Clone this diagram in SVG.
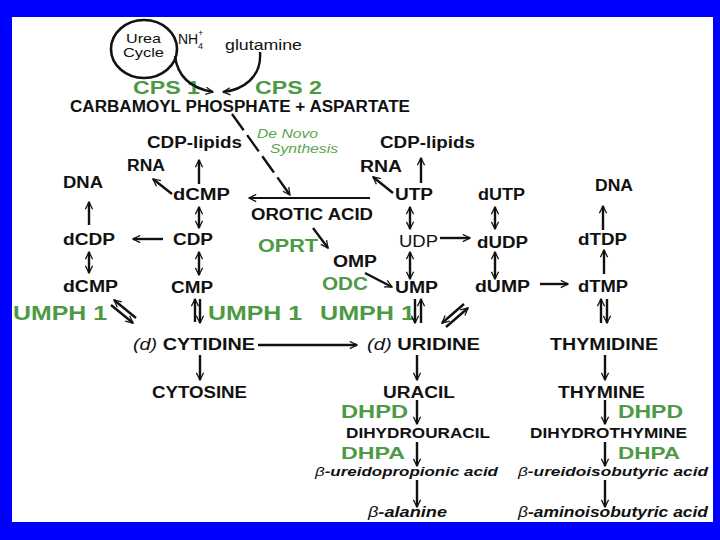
<svg xmlns="http://www.w3.org/2000/svg" width="720" height="540" viewBox="0 0 720 540">
<defs>
<marker id="ah" viewBox="0 0 10 10" refX="9" refY="5" markerWidth="9" markerHeight="9" markerUnits="userSpaceOnUse" orient="auto-start-reverse">
<path d="M1,1 L9,5 L1,9" fill="none" stroke="#111" stroke-width="1.4"/>
</marker>
<style>
text{font-family:"Liberation Sans",Arial,sans-serif;fill:#111;}
.b{font-weight:bold;font-size:16px;}
.g{font-weight:bold;fill:#4d9944;font-size:19px;}
.sm{font-weight:bold;font-size:14px;}
.it{font-style:italic;font-weight:bold;font-size:14px;}
.dn{font-style:italic;fill:#5aa64e;font-size:13px;}
.c{fill:none;stroke:#111;stroke-width:2.4;}
.a{marker-end:url(#ah);}
.d{marker-start:url(#ah);marker-end:url(#ah);}
</style>
</defs>
<rect width="720" height="540" fill="#0000ff"/>
<rect x="12" y="17" width="701" height="505" fill="#ffffff"/>

<g id="urea-cycle">
<ellipse cx="144" cy="49" rx="33" ry="29" fill="none" stroke="#111" stroke-width="2.6"/>
<text x="126" y="43" textLength="35" lengthAdjust="spacingAndGlyphs" style="font-size:13px">Urea</text>
<text x="123" y="57" textLength="41" lengthAdjust="spacingAndGlyphs" style="font-size:13px">Cycle</text>
</g>
<g id="nh4">
<text x="178" y="44" style="font-size:14px">NH</text>
<text x="198" y="36" style="font-size:9px">+</text>
<text x="198" y="49" style="font-size:9px">4</text>
</g>
<g id="glutamine"><text x="225" y="50" textLength="77" lengthAdjust="spacingAndGlyphs" style="font-size:15px">glutamine</text></g>
<g id="cps1"><text class="g" x="133" y="94" textLength="67" lengthAdjust="spacingAndGlyphs">CPS 1</text></g>
<g id="cps2"><text class="g" x="255" y="94" textLength="67" lengthAdjust="spacingAndGlyphs">CPS 2</text></g>
<g id="carbamoyl"><text class="b" x="70" y="112" textLength="340" lengthAdjust="spacingAndGlyphs">CARBAMOYL PHOSPHATE + ASPARTATE</text></g>
<g id="denovo">
<text class="dn" x="257" y="138" textLength="61" lengthAdjust="spacingAndGlyphs">De Novo</text>
<text class="dn" x="270" y="153" textLength="68" lengthAdjust="spacingAndGlyphs">Synthesis</text>
</g>
<g id="cdp-lipids-l"><text class="b" x="147" y="148" textLength="95" lengthAdjust="spacingAndGlyphs">CDP-lipids</text></g>
<g id="cdp-lipids-r"><text class="b" x="380" y="148" textLength="95" lengthAdjust="spacingAndGlyphs">CDP-lipids</text></g>
<g id="rna-l"><text class="b" x="127" y="171" textLength="38" lengthAdjust="spacingAndGlyphs">RNA</text></g>
<g id="rna-r"><text class="b" x="360" y="172" textLength="42" lengthAdjust="spacingAndGlyphs">RNA</text></g>
<g id="dna-l"><text class="b" x="63" y="188" textLength="40" lengthAdjust="spacingAndGlyphs">DNA</text></g>
<g id="dcmp-top"><text class="b" x="173" y="200" textLength="57" lengthAdjust="spacingAndGlyphs">dCMP</text></g>
<g id="orotic"><text class="b" x="251" y="220" textLength="122" lengthAdjust="spacingAndGlyphs">OROTIC ACID</text></g>
<g id="utp"><text class="b" x="395" y="200" textLength="38" lengthAdjust="spacingAndGlyphs">UTP</text></g>
<g id="dutp"><text class="b" x="478" y="200" textLength="47" lengthAdjust="spacingAndGlyphs">dUTP</text></g>
<g id="dna-r"><text class="b" x="595" y="191" textLength="38" lengthAdjust="spacingAndGlyphs">DNA</text></g>
<g id="dcdp"><text class="b" x="63" y="245" textLength="52" lengthAdjust="spacingAndGlyphs">dCDP</text></g>
<g id="cdp"><text class="b" x="173" y="245" textLength="40" lengthAdjust="spacingAndGlyphs">CDP</text></g>
<g id="oprt"><text class="g" x="258" y="252" textLength="60" lengthAdjust="spacingAndGlyphs" style="font-size:18px">OPRT</text></g>
<g id="omp"><text class="b" x="333" y="267" textLength="44" lengthAdjust="spacingAndGlyphs">OMP</text></g>
<g id="udp"><text class="b" x="399" y="247" textLength="39" lengthAdjust="spacingAndGlyphs" style="font-weight:normal">UDP</text></g>
<g id="dudp"><text class="b" x="477" y="248" textLength="51" lengthAdjust="spacingAndGlyphs">dUDP</text></g>
<g id="dtdp"><text class="b" x="578" y="245" textLength="49" lengthAdjust="spacingAndGlyphs">dTDP</text></g>
<g id="dcmp"><text class="b" x="63" y="292" textLength="55" lengthAdjust="spacingAndGlyphs">dCMP</text></g>
<g id="cmp"><text class="b" x="171" y="293" textLength="42" lengthAdjust="spacingAndGlyphs">CMP</text></g>
<g id="odc"><text class="g" x="322" y="290" textLength="46" lengthAdjust="spacingAndGlyphs" style="font-size:18px">ODC</text></g>
<g id="ump"><text class="b" x="395" y="293" textLength="43" lengthAdjust="spacingAndGlyphs">UMP</text></g>
<g id="dump"><text class="b" x="475" y="292" textLength="55" lengthAdjust="spacingAndGlyphs">dUMP</text></g>
<g id="dtmp"><text class="b" x="578" y="292" textLength="50" lengthAdjust="spacingAndGlyphs">dTMP</text></g>
<g id="umph1-l"><text class="g" x="13" y="320" textLength="94" lengthAdjust="spacingAndGlyphs" style="font-size:20px">UMPH 1</text></g>
<g id="umph1-m"><text class="g" x="208" y="320" textLength="94" lengthAdjust="spacingAndGlyphs" style="font-size:20px">UMPH 1</text></g>
<g id="umph1-r"><text class="g" x="320" y="320" textLength="95" lengthAdjust="spacingAndGlyphs" style="font-size:20px">UMPH 1</text></g>
<g id="cytidine"><text class="b" x="133" y="350" textLength="122" lengthAdjust="spacingAndGlyphs"><tspan style="font-style:italic;font-weight:normal">(d)</tspan> CYTIDINE</text></g>
<g id="uridine"><text class="b" x="367" y="350" textLength="113" lengthAdjust="spacingAndGlyphs"><tspan style="font-style:italic;font-weight:normal">(d)</tspan> URIDINE</text></g>
<g id="thymidine"><text class="b" x="550" y="350" textLength="108" lengthAdjust="spacingAndGlyphs">THYMIDINE</text></g>
<g id="cytosine"><text class="b" x="152" y="398" textLength="95" lengthAdjust="spacingAndGlyphs">CYTOSINE</text></g>
<g id="uracil"><text class="b" x="383" y="398" textLength="72" lengthAdjust="spacingAndGlyphs">URACIL</text></g>
<g id="thymine"><text class="b" x="558" y="398" textLength="87" lengthAdjust="spacingAndGlyphs">THYMINE</text></g>
<g id="dhpd-l"><text class="g" x="341" y="418" textLength="67" lengthAdjust="spacingAndGlyphs" style="font-size:18px">DHPD</text></g>
<g id="dhpd-r"><text class="g" x="618" y="418" textLength="65" lengthAdjust="spacingAndGlyphs" style="font-size:18px">DHPD</text></g>
<g id="dihydrouracil"><text class="sm" x="346" y="438" textLength="144" lengthAdjust="spacingAndGlyphs">DIHYDROURACIL</text></g>
<g id="dihydrothymine"><text class="sm" x="530" y="438" textLength="157" lengthAdjust="spacingAndGlyphs">DIHYDROTHYMINE</text></g>
<g id="dhpa-l"><text class="g" x="341" y="459" textLength="64" lengthAdjust="spacingAndGlyphs" style="font-size:17px">DHPA</text></g>
<g id="dhpa-r"><text class="g" x="618" y="459" textLength="62" lengthAdjust="spacingAndGlyphs" style="font-size:17px">DHPA</text></g>
<g id="ureidopropionic"><text class="it" x="315" y="476" textLength="183" lengthAdjust="spacingAndGlyphs" style="font-size:13px"><tspan style="font-weight:normal">β</tspan>-ureidopropionic acid</text></g>
<g id="ureidoisobutyric"><text class="it" x="518" y="476" textLength="190" lengthAdjust="spacingAndGlyphs" style="font-size:13px"><tspan style="font-weight:normal">β</tspan>-ureidoisobutyric acid</text></g>
<g id="alanine"><text class="it" x="368" y="517" textLength="79" lengthAdjust="spacingAndGlyphs"><tspan style="font-weight:normal">β</tspan>-alanine</text></g>
<g id="aminoisobutyric"><text class="it" x="518" y="517" textLength="190" lengthAdjust="spacingAndGlyphs"><tspan style="font-weight:normal">β</tspan>-aminoisobutyric acid</text></g>

<g id="connectors">
<path class="c a" d="M175,56 C178,80 195,89 213,92"/>
<path class="c a" d="M260,52 C262,78 242,90 223,92"/>
<path class="c a" d="M232,114 L290,195" stroke-dasharray="20 6"/>
<path class="c a" d="M199,184 L199,160"/>
<path class="c a" d="M421,183 L421,158"/>
<path class="c a" d="M172,194 L153,179"/>
<path class="c a" d="M393,193 L373,177"/>
<path class="c a" d="M370,198 L249,198" style="stroke-width:2"/>
<path class="c a" d="M89,225 L89,202"/>
<path class="c d" d="M199,207 L199,228"/>
<path class="c d" d="M410,207 L410,229"/>
<path class="c d" d="M495,207 L495,229"/>
<path class="c a" d="M603,230 L603,206"/>
<path class="c a" d="M163,239 L133,239"/>
<path class="c a" d="M313,228 L328,248"/>
<path class="c a" d="M440,238 L470,238"/>
<path class="c d" d="M89,252 L89,273"/>
<path class="c d" d="M199,252 L199,275"/>
<path class="c d" d="M410,252 L410,279"/>
<path class="c d" d="M495,252 L495,279"/>
<path class="c a" d="M604,274 L604,250"/>
<path class="c a" d="M365,273 L392,287"/>
<path class="c a" d="M540,284 L568,284"/>
<path class="c a" d="M111,305 L133,323"/>
<path class="c a" d="M136,318 L114,300"/>
<path class="c a" d="M195,322 L195,299"/>
<path class="c a" d="M200,299 L200,323"/>
<path class="c a" d="M415,299 L415,323"/>
<path class="c a" d="M421,323 L421,299"/>
<path class="c a" d="M464,304 L442,323"/>
<path class="c a" d="M446,327 L468,308"/>
<path class="c a" d="M601,323 L601,299"/>
<path class="c a" d="M607,299 L607,323"/>
<path class="c a" d="M258,345 L357,345"/>
<path class="c a" d="M200,355 L200,380"/>
<path class="c a" d="M417,355 L417,380"/>
<path class="c a" d="M605,355 L605,380"/>
<path class="c a" d="M417,400 L417,424"/>
<path class="c a" d="M605,400 L605,424"/>
<path class="c a" d="M417,442 L417,466"/>
<path class="c a" d="M605,442 L605,466"/>
<path class="c a" d="M417,480 L417,507"/>
<path class="c a" d="M605,480 L605,507"/>
</g>
</svg>
